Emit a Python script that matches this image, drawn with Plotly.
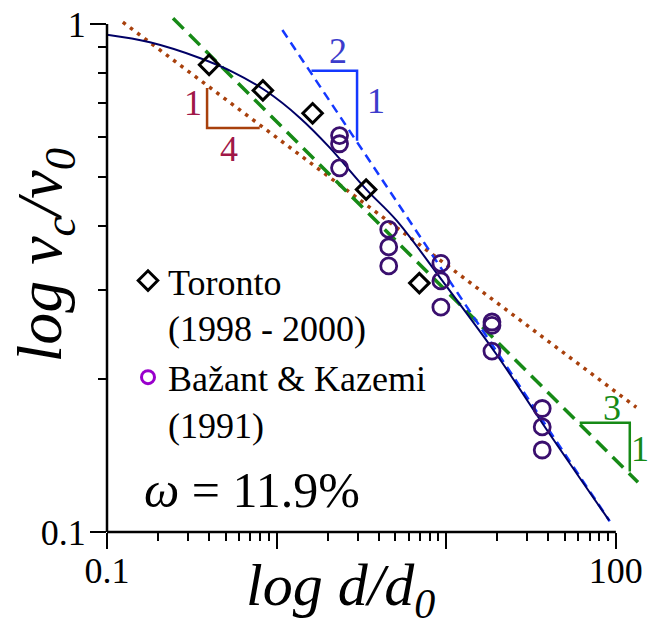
import plotly.graph_objects as go
import math

# ---------------- data ----------------
toronto_x = [0.40, 0.83, 1.63, 3.37, 6.94]
toronto_y = [0.831, 0.740, 0.667, 0.472, 0.309]

bazant_x = [2.35, 2.35, 2.35, 4.58, 4.58, 4.58, 9.3, 9.3, 9.3,
            18.6, 18.6, 18.6, 36.8, 36.8, 36.8]
bazant_y = [0.603, 0.581, 0.521, 0.394, 0.364, 0.334, 0.338, 0.312, 0.277,
            0.259, 0.255, 0.227, 0.175, 0.161, 0.145]

fit_x = [0.1, 0.179, 0.352, 0.553, 0.871, 1.368, 2.056, 3.385, 5.09, 9.57, 19.8, 37.2, 91.2]
fit_y = [0.952, 0.920, 0.857, 0.804, 0.737, 0.654, 0.571, 0.472, 0.4105, 0.311, 0.2235, 0.163, 0.1054]

slope_half_x = [1.081, 92.0]
slope_half_y = [0.973, 0.105]
slope_third_x = [0.245, 135.0]
slope_third_y = [1.026, 0.1253]
slope_quarter_x = [0.124, 132.0]
slope_quarter_y = [1.008, 0.176]

tri_quarter_x = [0.389, 0.389, 0.795]
tri_quarter_y = [0.748, 0.624, 0.624]
tri_half_x = [1.604, 2.98, 2.98]
tri_half_y = [0.809, 0.809, 0.589]
tri_third_x = [61.2, 120.8, 120.8]
tri_third_y = [0.164, 0.164, 0.1316]

x_tickvals = [0.1, 1, 10, 100]
x_ticktext = ["0.1", "", "", "100"]
y_tickvals = [0.1, 1]
y_ticktext = ["0.1", "1"]
x_minor = [0.2, 0.3, 0.4, 0.5, 0.6, 0.7, 0.8, 0.9,
           2, 3, 4, 5, 6, 7, 8, 9, 20, 30, 40, 50, 60, 70, 80, 90]
y_minor = [0.2, 0.3, 0.4, 0.5, 0.6, 0.7, 0.8, 0.9]

# ---------------- layout geometry ----------------
W, H = 648, 630
ML, MR, MT, MB = 107, 5, 12, 98
PW, PH = W - ML - MR, H - MT - MB
XR = [-1, 2.160]
YR = [-1, 0.0176]


def fx(px):
    return (px - ML) / PW


def fy(py):
    return (MT + PH - py) / PH


def xdata_paper(v):
    return (math.log10(v) - XR[0]) / (XR[1] - XR[0])


def ydata_paper(v):
    return (math.log10(v) - YR[0]) / (YR[1] - YR[0])


FONT = "Liberation Serif"

fig = go.Figure()

# reference lines
fig.add_trace(go.Scatter(x=slope_quarter_x, y=slope_quarter_y, mode="lines",
                         line=dict(color="#a8400c", width=3.5, dash="3.5px,5.5px"),
                         showlegend=False, hoverinfo="skip"))
fig.add_trace(go.Scatter(x=slope_third_x, y=slope_third_y, mode="lines",
                         line=dict(color="#168a16", width=3.5, dash="15px,8px"),
                         showlegend=False, hoverinfo="skip"))
fig.add_trace(go.Scatter(x=slope_half_x, y=slope_half_y, mode="lines",
                         line=dict(color="#1438ff", width=2.5, dash="9px,6px"),
                         showlegend=False, hoverinfo="skip"))
fig.add_trace(go.Scatter(x=fit_x, y=fit_y, mode="lines", line_shape="spline",
                         line=dict(color="#000066", width=2),
                         showlegend=False, hoverinfo="skip"))

# slope triangles
fig.add_trace(go.Scatter(x=tri_quarter_x, y=tri_quarter_y, mode="lines",
                         line=dict(color="#a8400c", width=2.5), showlegend=False, hoverinfo="skip"))
fig.add_trace(go.Scatter(x=tri_half_x, y=tri_half_y, mode="lines",
                         line=dict(color="#1438ff", width=2.5), showlegend=False, hoverinfo="skip"))
fig.add_trace(go.Scatter(x=tri_third_x, y=tri_third_y, mode="lines",
                         line=dict(color="#168a16", width=2.5), showlegend=False, hoverinfo="skip"))

# data
fig.add_trace(go.Scatter(x=bazant_x, y=bazant_y, mode="markers",
                         marker=dict(symbol="circle-open", size=16, color="#3a0f6e",
                                     line=dict(width=2.8, color="#3a0f6e")),
                         showlegend=False))
fig.add_trace(go.Scatter(x=toronto_x, y=toronto_y, mode="markers",
                         name="Toronto<br>(1998 - 2000)",
                         marker=dict(symbol="diamond-open", size=15, color="black",
                                     line=dict(width=3, color="black"))))
fig.add_trace(go.Scatter(x=[None], y=[None], mode="markers",
                         name="Bažant & Kazemi<br>(1991)",
                         marker=dict(symbol="circle-open", size=13, color="#9900cc",
                                     line=dict(width=3, color="#9900cc"))))

# axis lines (only over the labelled decades)
fig.add_shape(type="line", xref="paper", yref="paper",
              x0=0, x1=xdata_paper(100), y0=0, y1=0,
              line=dict(color="black", width=2.5))
fig.add_shape(type="line", xref="paper", yref="paper",
              x0=0, x1=0, y0=0, y1=ydata_paper(1),
              line=dict(color="black", width=2.5))

ann = []


def label(px, py, text, size, color="black", angle=0):
    ann.append(dict(x=fx(px), y=fy(py), xref="paper", yref="paper", text=text,
                    showarrow=False, xanchor="center", yanchor="middle",
                    textangle=angle, font=dict(family=FONT, size=size, color=color)))


label(193, 101, "1", 36, "#a01848")
label(229, 147, "4", 36, "#a01848")
label(338, 48, "2", 36, "#3c3ccc")
label(376, 99, "1", 36, "#3c3ccc")
label(612, 407, "3", 36, "#168a16")
label(640, 449, "1", 36, "#168a16")
label(252, 490, "<i>ω</i> = 11.9%", 50)
label(340, 590, "<i>log d/d</i><sub><i>0</i></sub>", 60)
label(44, 254, "<i>log v</i><sub><i>c</i></sub><i>/v</i><sub><i>0</i></sub>", 64, angle=-90)

fig.update_layout(
    width=W, height=H,
    margin=dict(l=ML, r=MR, t=MT, b=MB),
    paper_bgcolor="white", plot_bgcolor="white",
    font=dict(family=FONT, color="black"),
    annotations=ann,
    legend=dict(x=fx(128), y=fy(249), xanchor="left", yanchor="top",
                bgcolor="rgba(0,0,0,0)", borderwidth=0, valign="top",
                font=dict(family=FONT, size=36, color="black"),
                tracegroupgap=0, itemwidth=30),
    xaxis=dict(type="log", range=XR, showgrid=False, zeroline=False, showline=False,
               tickmode="array", tickvals=x_tickvals, ticktext=x_ticktext,
               ticks="outside", ticklen=16, tickwidth=2, tickcolor="black",
               ticklabelstandoff=-9,
               tickfont=dict(family=FONT, size=36, color="black"),
               minor=dict(tickmode="array", tickvals=x_minor, ticks="outside",
                          ticklen=8, tickwidth=2, tickcolor="black", showgrid=False)),
    yaxis=dict(type="log", range=YR, showgrid=False, zeroline=False, showline=False,
               tickmode="array", tickvals=y_tickvals, ticktext=y_ticktext,
               ticks="outside", ticklen=16, tickwidth=2, tickcolor="black",
               ticklabelstandoff=-3,
               tickfont=dict(family=FONT, size=36, color="black"),
               minor=dict(tickmode="array", tickvals=y_minor, ticks="outside",
                          ticklen=8, tickwidth=2, tickcolor="black", showgrid=False)),
)

fig.write_html("out.html")
